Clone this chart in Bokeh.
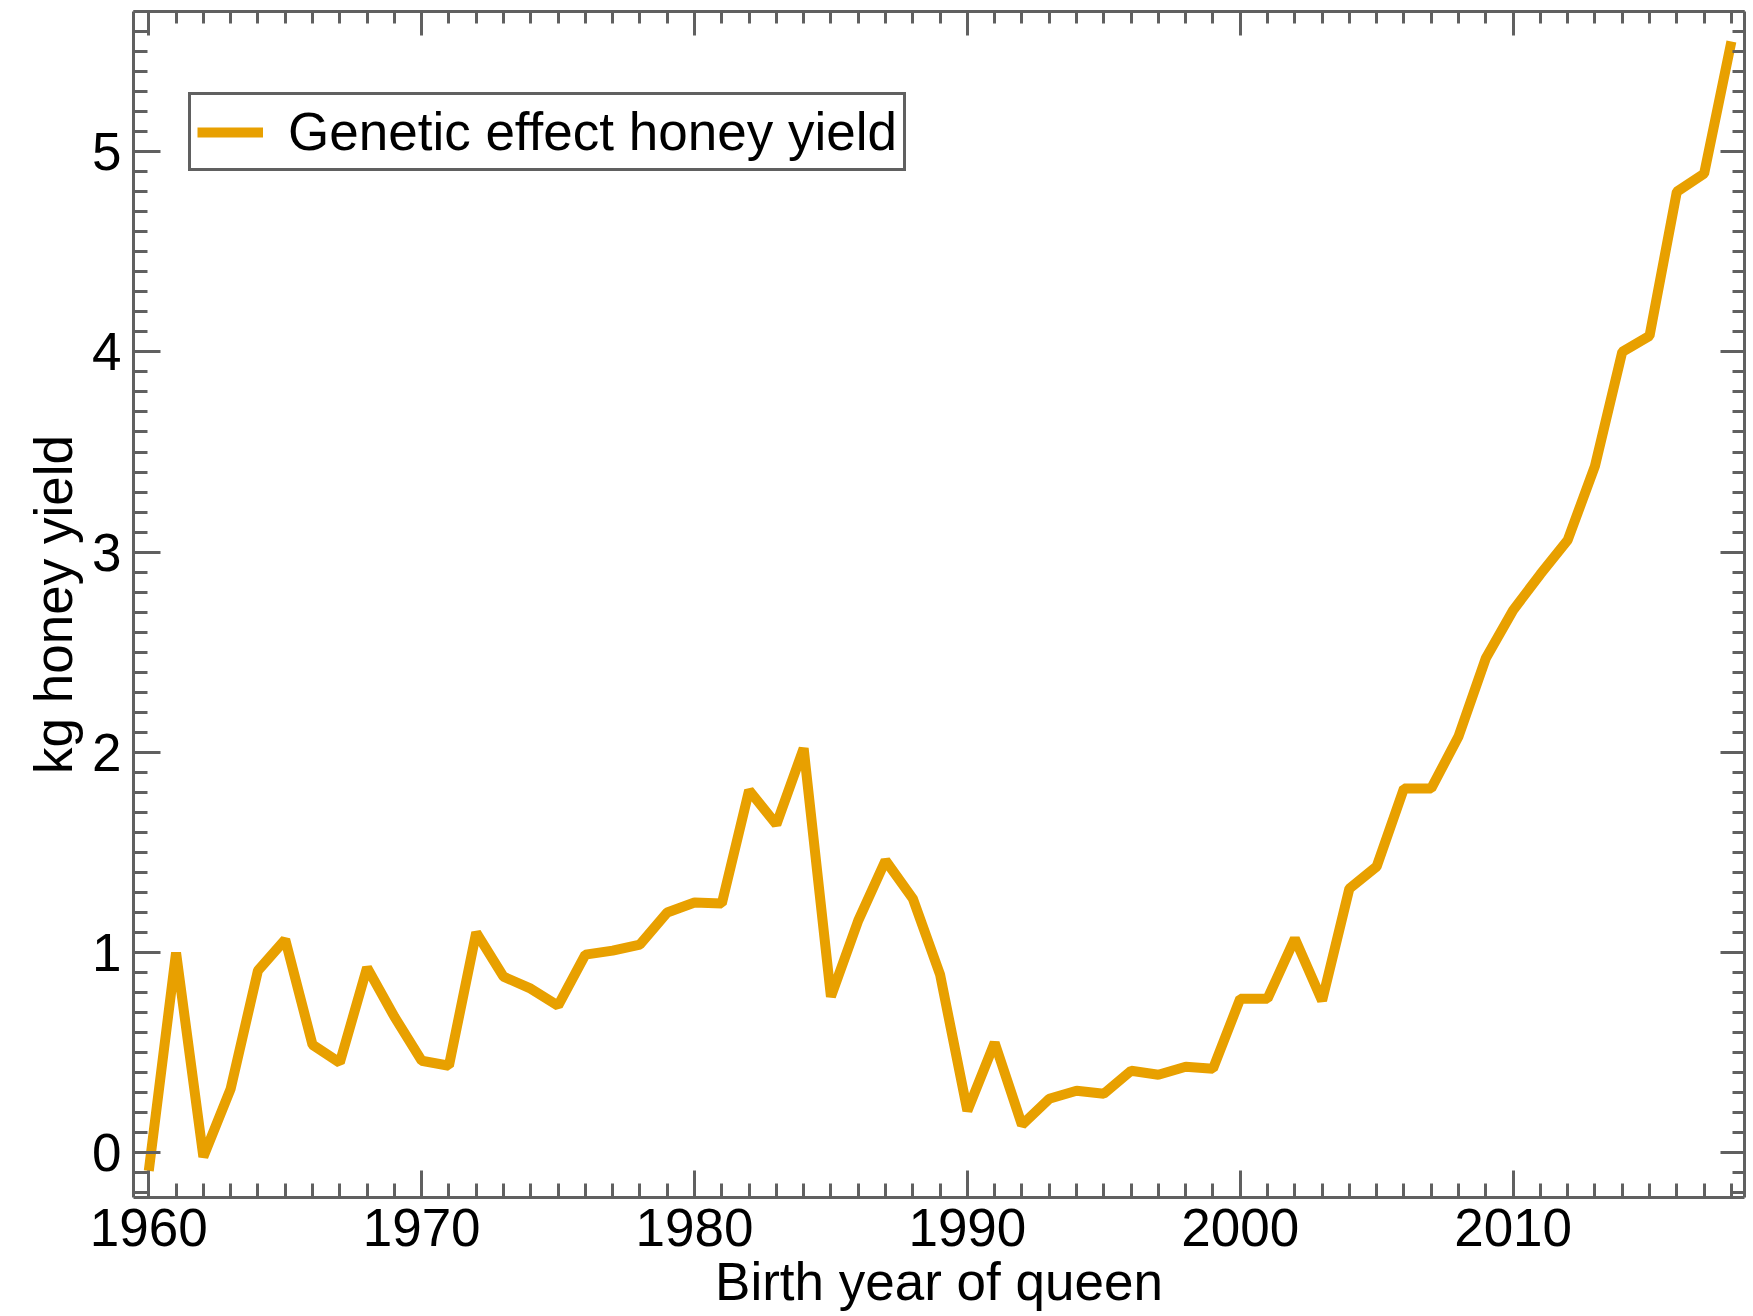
from bokeh.plotting import figure
from bokeh.models import (LinearAxis, SingleIntervalTicker, Range1d, Legend,
                          LegendItem, ColumnDataSource, CustomLabelingPolicy)
from bokeh.embed import file_html
from bokeh.resources import INLINE

years = list(range(1960, 2019))
genetic_effect = [-0.09, 1.00, -0.02, 0.32, 0.91, 1.065, 0.54, 0.45, 0.925, 0.68,
                  0.46, 0.435, 1.10, 0.88, 0.82, 0.735, 0.99, 1.01, 1.04, 1.20,
                  1.25, 1.245, 1.81, 1.64, 2.02, 0.78, 1.16, 1.46, 1.27, 0.89,
                  0.21, 0.55, 0.14, 0.27, 0.31, 0.295, 0.41, 0.39, 0.43, 0.42,
                  0.77, 0.77, 1.07, 0.76, 1.32, 1.43, 1.82, 1.82, 2.08, 2.47,
                  2.71, 2.89, 3.06, 3.43, 4.00, 4.08, 4.80, 4.89, 5.55]
series_label = "Genetic effect honey yield"
x_title = "Birth year of queen"
y_title = "kg honey yield"

FONT = "Liberation Sans"
FS = "53px"
AX = "#606060"
ORANGE = "#E8A000"

source = ColumnDataSource(data=dict(year=years, value=genetic_effect))

p = figure(width=1753, height=1316,
           x_range=Range1d(1959.44, 2018.48), y_range=Range1d(-0.223, 5.70),
           output_backend="svg", toolbar_location=None,
           x_axis_location=None, y_axis_location=None,
           min_border_left=133, min_border_top=10, min_border_right=6,
           min_border_bottom=119, outline_line_color=None)
p.xgrid.visible = False
p.ygrid.visible = False
p.background_fill_color = "white"
p.border_fill_color = "white"

r = p.line("year", "value", source=source, line_color=ORANGE, line_width=10,
           line_join="bevel")

no_labels = CustomLabelingPolicy(code="return new Set()")


def style_axis(ax, tick_in, minor_in, labels=True):
    ax.axis_line_color = AX
    ax.axis_line_width = 3
    ax.major_tick_line_color = AX
    ax.major_tick_line_width = 3
    ax.minor_tick_line_color = AX
    ax.minor_tick_line_width = 3
    ax.major_tick_in = tick_in
    ax.major_tick_out = 0
    ax.minor_tick_in = minor_in
    ax.minor_tick_out = 0
    if labels:
        ax.major_label_text_font = FONT
        ax.major_label_text_font_size = FS
        ax.major_label_text_color = "black"
        ax.axis_label_text_font = FONT
        ax.axis_label_text_font_size = FS
        ax.axis_label_text_font_style = "normal"
        ax.axis_label_text_color = "black"
    else:
        ax.major_label_policy = no_labels
        ax.major_label_standoff = 0


xb = LinearAxis(ticker=SingleIntervalTicker(interval=10, num_minor_ticks=10),
                axis_label=x_title)
style_axis(xb, 27, 14)
xb.major_label_standoff = 11
xb.axis_label_standoff = 3
p.add_layout(xb, "below")

xt = LinearAxis(ticker=SingleIntervalTicker(interval=10, num_minor_ticks=10))
style_axis(xt, 24, 12, labels=False)
p.add_layout(xt, "above")

yl = LinearAxis(ticker=SingleIntervalTicker(interval=1, num_minor_ticks=10),
                axis_label=y_title)
style_axis(yl, 27, 14)
yl.major_label_standoff = 12
yl.axis_label_standoff = 6
p.add_layout(yl, "left")

yr = LinearAxis(ticker=SingleIntervalTicker(interval=1, num_minor_ticks=10))
style_axis(yr, 24, 12, labels=False)
p.add_layout(yr, "right")

legend = Legend(items=[LegendItem(label=series_label, renderers=[r])],
                location=(55, 1026))
legend.border_line_color = AX
legend.border_line_width = 3
legend.border_line_alpha = 1
legend.background_fill_color = "white"
legend.background_fill_alpha = 1
legend.label_text_font = FONT
legend.label_text_font_size = FS
legend.label_text_color = "black"
legend.glyph_width = 66
legend.glyph_height = 40
legend.label_standoff = 25
legend.padding = 6
legend.margin = 0
legend.spacing = 0
p.add_layout(legend)

open("out.html", "w").write(file_html(p, INLINE))
